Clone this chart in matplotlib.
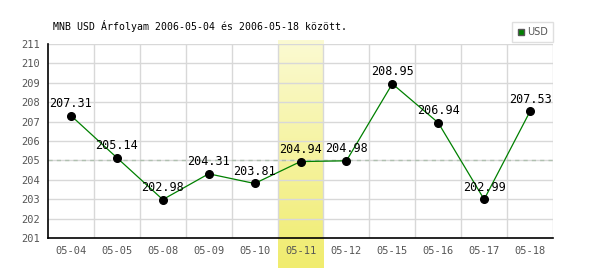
#!/usr/bin/env python3

import matplotlib
matplotlib.use("Agg")
import matplotlib.pyplot as plt
import numpy as np
from matplotlib.lines import Line2D

dates = ['05-04', '05-05', '05-08', '05-09', '05-10', '05-11',
         '05-12', '05-15', '05-16', '05-17', '05-18']
usd = [207.31, 205.14, 202.98, 204.31, 203.81, 204.94,
       204.98, 208.95, 206.94, 202.99, 207.53]
highlight = '05-11'
ref_level = 205
title = 'MNB USD Árfolyam 2006-05-04 és 2006-05-18 között.'

fig = plt.figure(figsize=(6, 2.7), dpi=100)
ax = fig.add_axes([0.08, 0.1185, 0.8417, 0.7185])

x = np.arange(len(dates))
ax.set_xlim(-0.5, len(dates) - 0.5)
ax.set_ylim(201, 211)

# highlighted day: yellow gradient band running below the axis
hi = dates.index(highlight)
grad = np.linspace(0, 1, 100).reshape(-1, 1)
top = np.array([251, 250, 210]) / 255
bot = np.array([240, 236, 110]) / 255
img = top + (bot - top) * grad[:, :, None]
ax.imshow(img, extent=(hi - 0.5, hi + 0.5, -0.155, 1.02), aspect='auto',
          transform=ax.get_xaxis_transform(), clip_on=False, zorder=0,
          origin='upper')

# grid
for yy in range(202, 212):
    ax.axhline(yy, color='#d8d8d8', lw=1, zorder=1)
for xx in np.arange(0.5, len(dates), 1.0):
    ax.axvline(xx, color='#d8d8d8', lw=1, zorder=1)
ax.axhline(ref_level, color='#b0c0b0', lw=1, ls=(0, (3, 3)), zorder=1.5)

ax.plot(x, usd, color='#008000', lw=0.9, zorder=2)
ax.plot(x, usd, 'o', color='black', ms=5.5, zorder=3)
for xi, v in zip(x, usd):
    ax.annotate(f'{v:.2f}', (xi, v), xytext=(0, 4), textcoords='offset points',
                ha='center', va='bottom', fontsize=8.5, family='DejaVu Sans Mono',
                color='black', zorder=4)

ax.set_xticks(x)
ax.set_xticklabels(dates)
ax.set_yticks(range(201, 212))
ax.tick_params(length=0, labelsize=7.5, labelcolor='#555555', pad=6)
for lab in ax.get_xticklabels() + ax.get_yticklabels():
    lab.set_family('DejaVu Sans Mono')
ax.spines['top'].set_visible(False)
ax.spines['right'].set_visible(False)
for s in ('left', 'bottom'):
    ax.spines[s].set_color('black')
    ax.spines[s].set_linewidth(1.2)
ax.spines['left'].set_zorder(5)

fig.text(0.088, 0.905, title, fontsize=7.1, family='DejaVu Sans Mono',
         color='black', va='center', ha='left')

handle = Line2D([], [], marker='s', ls='none', color='#008000',
                markeredgecolor='#555555', ms=5)
leg = ax.legend([handle], ['USD'], loc='lower right', bbox_to_anchor=(1.0, 1.01),
                fontsize=7, frameon=True, fancybox=False, handletextpad=0.1,
                borderpad=0.5, handlelength=1.0, borderaxespad=0)
leg.get_frame().set_edgecolor('#d8d8d8')
leg.get_frame().set_linewidth(1)
for t in leg.get_texts():
    t.set_color('#555555')

fig.savefig('out.png', dpi=100)
